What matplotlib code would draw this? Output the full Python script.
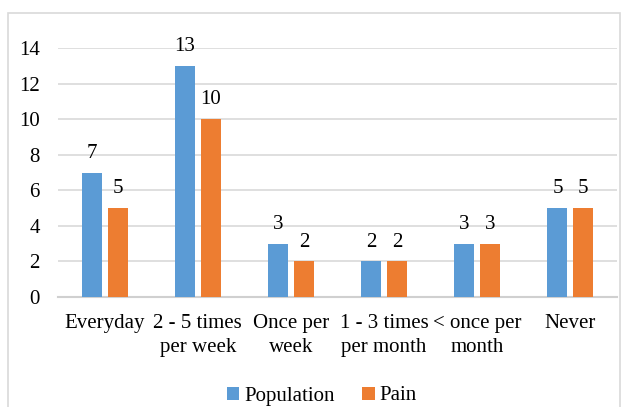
import numpy as np
import matplotlib
matplotlib.use("Agg")
import matplotlib.pyplot as plt
from matplotlib.patches import Rectangle

categories = ["Everyday", "2 - 5 times\nper week", "Once per\nweek",
              "1 - 3 times\nper month", "< once per\nmonth", "Never"]
population = [7, 13, 3, 2, 3, 5]
pain = [5, 10, 2, 2, 3, 5]
series_names = ["Population", "Pain"]
yticks = [0, 2, 4, 6, 8, 10, 12, 14]

blue = "#5B9BD5"
orange = "#ED7D31"
fs = 15

plt.rcParams["font.family"] = ["Liberation Serif", "DejaVu Serif"]

fig = plt.figure(figsize=(6.25, 4.07), dpi=100)
# light chart border like the Excel chart area
fig.patches.append(Rectangle((8 / 625, -0.05), 612 / 625, 1.05 - 13 / 407,
                             transform=fig.transFigure, fill=False,
                             edgecolor="#d9d9d9", linewidth=1.2))

ax = fig.add_axes([58 / 625, 1 - 297 / 407, 559 / 625, 249 / 407])
x = np.arange(len(categories))
w = 0.215
off = 0.139
b1 = ax.bar(x - off, population, w, color=blue, label=series_names[0], zorder=3)
b2 = ax.bar(x + off, pain, w, color=orange, label=series_names[1], zorder=3)

for bars, vals in ((b1, population), (b2, pain)):
    for r, v in zip(bars, vals):
        ax.annotate(str(v), (r.get_x() + r.get_width() / 2, v), xytext=(0, 7),
                    textcoords="offset points", ha="center", va="bottom",
                    fontsize=fs, color="#000000")

ax.set_xlim(-0.5, len(categories) - 0.5)
ax.set_ylim(0, 14)
ax.set_yticks(yticks)
ax.set_xticks(x)
ax.set_xticklabels(categories, fontsize=fs, linespacing=1.35)
ax.tick_params(axis="y", labelsize=fs, length=0, pad=13)
ax.tick_params(axis="x", length=0, pad=12)
ax.grid(axis="y", color="#d9d9d9", linewidth=1.2, zorder=0)
for s in ["top", "right", "left"]:
    ax.spines[s].set_visible(False)
ax.spines["bottom"].set_color("#d0d0d0")
ax.spines["bottom"].set_linewidth(1.5)

fig.legend(handles=[b1, b2], loc="center", bbox_to_anchor=(0.515, 1 - 396 / 407),
           ncol=2, frameon=False, fontsize=fs, handlelength=0.6,
           handleheight=0.6, handletextpad=0.25, columnspacing=1.3)

fig.savefig("out.png", dpi=100)
